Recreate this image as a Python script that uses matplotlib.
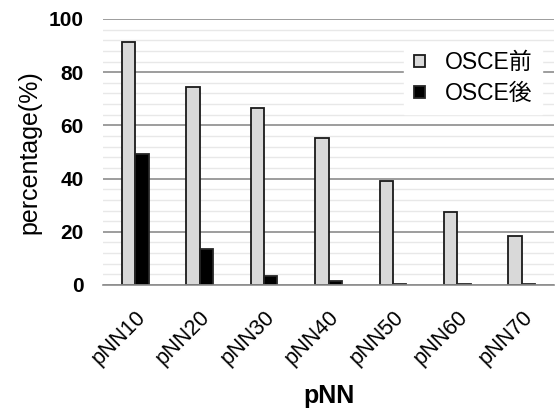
import matplotlib.pyplot as plt
from matplotlib.ticker import MultipleLocator
import numpy as np

plt.rcParams['font.family'] = ['Liberation Sans', 'Noto Sans CJK JP', 'DejaVu Sans']

#data
categories = ['pNN10', 'pNN20', 'pNN30', 'pNN40', 'pNN50', 'pNN60', 'pNN70']
before = [91.5, 74.5, 66.5, 55.3, 39.1, 27.4, 18.4]
after = [49.2, 13.5, 3.5, 1.5, 0.5, 0.5, 0.5]

fig = plt.figure(figsize=(5.58, 4.12), dpi=100)
ax = fig.add_axes([103/558, 1-285/412, 451/558, 266/412])

x = np.arange(len(categories))
w = 0.207
ax.bar(x - w/2, before, w, color='#d9d9d9', edgecolor='#1a1a1a', linewidth=1.3, label='OSCE前', zorder=3)
ax.bar(x + w/2, after, w, color='black', edgecolor='#262626', linewidth=1.3, label='OSCE後', zorder=3)

#format of plot
ax.set_ylim(0, 100)
ax.set_xlim(-0.5, len(categories) - 0.5)
ax.yaxis.set_major_locator(MultipleLocator(20))
ax.yaxis.set_minor_locator(MultipleLocator(4))
ax.grid(axis='y', which='major', color='#8c8c8c', linewidth=1.2, zorder=0)
ax.grid(axis='y', which='minor', color='#e8e8e8', linewidth=1.0, zorder=0)
for s in ['top', 'right', 'left']:
    ax.spines[s].set_visible(False)
ax.spines['bottom'].set_color('#8c8c8c')
ax.spines['bottom'].set_linewidth(1.2)
ax.spines['bottom'].set_zorder(4)
ax.tick_params(axis='both', which='both', length=0)
ax.tick_params(axis='y', pad=14)
ax.tick_params(axis='x', pad=15.5)

ax.set_xticks(x)
ax.set_xticklabels(categories, rotation=45, ha='right', rotation_mode='anchor', fontsize=15.5)
for t in ax.get_yticklabels():
    t.set_fontweight('bold')
    t.set_fontsize(15)

ax.set_xlabel('pNN', fontsize=18, fontweight='bold')
ax.xaxis.set_label_coords((329-103)/451, (285-384)/266)
ax.set_ylabel('percentage(%)', fontsize=18)
ax.yaxis.set_label_coords((41-103)/451, 0.5)

leg = ax.legend(loc='upper right', bbox_to_anchor=((542-103)/451, (285-42)/266), frameon=True, fontsize=16.5,
                handlelength=0.48, handleheight=0.48, handletextpad=0.9, labelspacing=0.35,
                borderpad=0.4, borderaxespad=0)
leg.get_frame().set_edgecolor('white')
leg.get_frame().set_facecolor('white')
leg.get_frame().set_alpha(1.0)
leg.get_frame().set_boxstyle('square', pad=0)

fig.savefig('out.png', dpi=100)
